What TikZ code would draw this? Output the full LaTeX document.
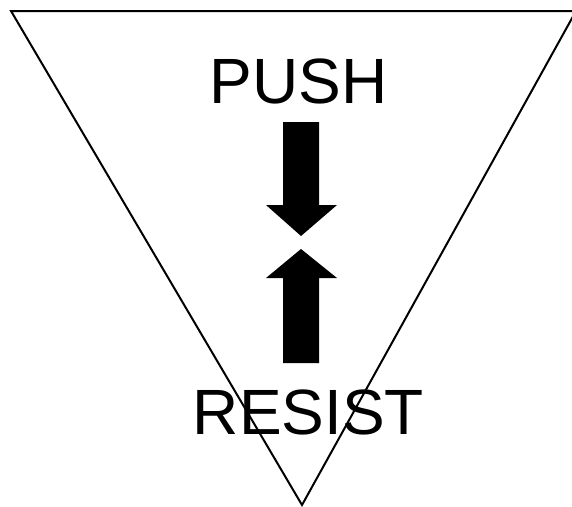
\documentclass[tikz,border=0pt]{standalone}
\usepackage{fontspec}
\setmainfont{Liberation Sans}
\usepackage{tikz}
\usetikzlibrary{positioning}

\begin{document}
\begin{tikzpicture}[x=1pt, y=-1pt,
    word/.style={font=\fontsize{64}{64}\selectfont, inner sep=0pt, anchor=base},
    edge/.style={draw, line width=2pt, line join=miter},
    block/.style={fill=black}]
    \useasboundingbox (0,0) rectangle (572,506);
    \clip (0,0) rectangle (572,506);
    % funnel
    \coordinate (tl) at (11,11);
    \coordinate (tr) at (576,11);
    \coordinate (tip) at (302,505);
    \draw[edge] (tl) -- (tr) -- (tip) -- cycle;
    % labels
    \node[word] (push) at (298.5,103) {PUSH};
    \node[word] (resist) at (308.5,434) {RESIST};
    % arrows
    \fill[block] (283,122) -- (319,122) -- (319,205) -- (337,205) -- (301,236)
      -- (266,205) -- (283,205) -- cycle;
    \fill[block] (283,363) -- (319,363) -- (319,278) -- (337,278) -- (301,249)
      -- (266,278) -- (283,278) -- cycle;
  \end{tikzpicture}
\end{document}
